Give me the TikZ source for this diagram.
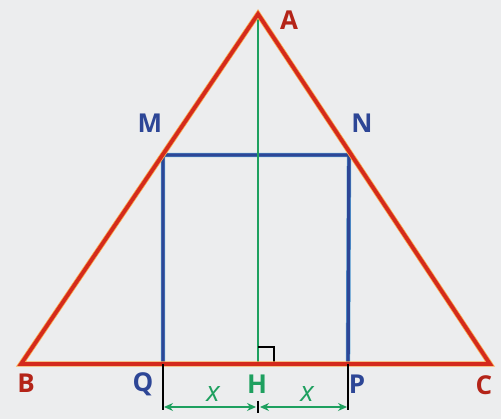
\documentclass[tikz,border=0pt]{standalone}
\usepackage{fontspec}
\setmainfont{Open Sans}
\usetikzlibrary{arrows.meta}
\definecolor{tred}{RGB}{212,42,28}
\definecolor{tglow}{RGB}{250,170,80}
\definecolor{tblue}{RGB}{45,70,150}
\definecolor{tcyan}{RGB}{90,170,220}
\definecolor{tgreen}{RGB}{30,160,95}
\definecolor{bg}{RGB}{236,237,238}
\tikzset{
  redline/.style={tred,line width=3.8pt,line join=miter},
  redglow/.style={tglow,line width=5.4pt,line join=miter},
  blueline/.style={tblue,line width=3.4pt},
  blueglow/.style={tcyan,line width=4.4pt},
  greenline/.style={tgreen,line width=1.2pt},
  tickline/.style={black,line width=1.2pt},
  rlab/.style={text=tred!85!black,font=\fontsize{26}{26}\selectfont\bfseries},
  blab/.style={text=tblue,font=\fontsize{26}{26}\selectfont\bfseries},
  glab/.style={text=tgreen,font=\fontsize{26}{26}\selectfont\bfseries},
  xlab/.style={text=tgreen,font=\fontsize{28}{28}\selectfont\itshape},
  dimarrow/.style={tgreen,line width=1.3pt,{Stealth[length=9pt,width=8pt]}-{Stealth[length=9pt,width=8pt]}}
}
\begin{document}
\begin{tikzpicture}[x=1pt,y=-1pt]
\fill[bg] (0,0) rectangle (501,419);
\useasboundingbox (0,0) rectangle (501,419);
% points
\coordinate (A) at (258,14);
\coordinate (B) at (21,364);
\coordinate (C) at (490,364);
\coordinate (H) at (258,364);
\coordinate (M) at (163,155);
\coordinate (N) at (349,155);
\coordinate (Q) at (163,364);
\coordinate (P) at (348,364);
\coordinate (Qd) at (163,410);
\coordinate (Pd) at (348,410);
\coordinate (Hu) at (258,401);
\coordinate (Hd) at (258,413);
\coordinate (Qa) at (164,407);
\coordinate (Pa) at (347,407);
\coordinate (Ha1) at (256,407);
\coordinate (Ha2) at (260,407);
\coordinate (R1) at (258,347);
\coordinate (R2) at (274,347);
\coordinate (R3) at (274,364);
% rectangle MNPQ
\draw[blueglow] (Q) -- (M) -- (N) -- (P);
\draw[blueline] (Q) -- (M) -- (N) -- (P);
% altitude
\draw[greenline] (A) -- (H);
% right angle
\draw[black,line width=1.8pt] (R1) -- (R2) -- (R3);
% triangle
\draw[redglow] (A) -- (B) -- (C) -- cycle;
\draw[redline] (A) -- (B) -- (C) -- cycle;
% ticks
\draw[tickline] (Q) -- (Qd);
\draw[tickline] (P) -- (Pd);
\draw[tickline] (Hu) -- (Hd);
% dimension arrows
\draw[dimarrow] (Qa) -- (Ha1);
\draw[dimarrow] (Ha2) -- (Pa);
% labels
\node[rlab] (lA) at (289,20) {A};
\node[rlab] (lB) at (26,383) {B};
\node[rlab] (lC) at (484,385) {C};
\node[blab] (lM) at (150,123) {M};
\node[blab] (lN) at (362,123) {N};
\node[blab] (lQ) at (143,384) {Q};
\node[blab] (lP) at (357,384) {P};
\node[glab] (lH) at (257,384) {H};
\node[xlab] (x1) at (213,394) {x};
\node[xlab] (x2) at (307,394) {x};
\end{tikzpicture}
\end{document}
